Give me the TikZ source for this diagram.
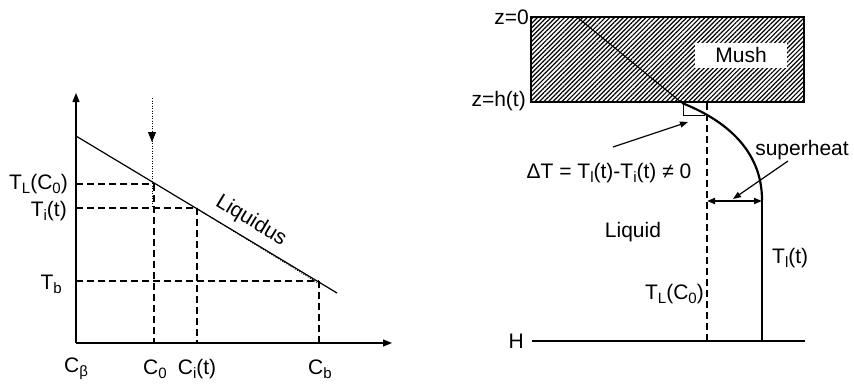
\documentclass[tikz,border=0pt]{standalone}
\usepackage{fontspec}
\setmainfont{Liberation Sans}
\usetikzlibrary{arrows.meta,patterns.meta}
\newcommand\lowsub[1]{\raisebox{-4pt}{\fontsize{15}{15}\selectfont #1}}
\tikzset{
  lbl/.style={inner sep=0pt,font=\fontsize{21}{24}\selectfont},
  axis/.style={line width=1.2pt,-{Triangle[length=9pt,width=7pt]}},
  thinln/.style={line width=1.2pt},
  dashln/.style={line width=1.2pt,dash pattern=on 7pt off 4pt},
  dotln/.style={line width=0.9pt,dash pattern=on 1pt off 1.5pt},
  thick2/.style={line width=2.2pt},
  ptr/.style={line width=1.2pt,-{Triangle[length=8pt,width=6pt]}}
}
\begin{document}
\begin{tikzpicture}[x=1pt,y=-1pt]
\useasboundingbox (0,0) rectangle (854,383);
% ---------- left diagram ----------
\coordinate (O) at (76,343);
\coordinate (ytop) at (76,93);
\coordinate (xend) at (392,343);
\coordinate (L1) at (76,136);
\coordinate (L2) at (337,293);
\coordinate (TLp) at (154,184);
\coordinate (Tip) at (197,208);
\coordinate (Tbp) at (319,281);
\coordinate (yTL) at (76,184);
\coordinate (yTi) at (76,208);
\coordinate (yTb) at (76,281);
\coordinate (xC0) at (154,343);
\coordinate (xCi) at (197,343);
\coordinate (xCb) at (319,343);
\coordinate (A0) at (152,98);
\coordinate (A1) at (152,142);
\coordinate (A2) at (152,208);
\coordinate (I1) at (199,210);
\coordinate (I2) at (318,283);

\draw[axis] (O) -- (ytop);
\draw[axis] (O) -- (xend);
\draw[thinln] (L1) -- (L2);
\draw[dashln] (yTL) -- (TLp);
\draw[dashln] (yTi) -- (Tip);
\draw[dashln] (yTb) -- (Tbp);
\draw[dashln] (TLp) -- (xC0);
\draw[dashln] (Tip) -- (xCi);
\draw[dashln] (Tbp) -- (xCb);
\draw[dotln] (A0) -- (A2);
\draw[dotln,-{Triangle[length=10pt,width=8pt]}] (A0) -- (A1);
\draw[dotln] (I1) -- (I2);

\node[lbl,anchor=east] (tlc0) at (68,184) {T\lowsub{L}(C\lowsub{0})};
\node[lbl,anchor=east] (tit) at (67,211) {T\lowsub{i}(t)};
\node[lbl,anchor=east] (tb) at (62,284) {T\lowsub{b}};
\node[lbl] (cbeta) at (76,369) {C\lowsub{β}};
\node[lbl] (c0) at (155,369) {C\lowsub{0}};
\node[lbl] (cit) at (197,369) {C\lowsub{i}(t)};
\node[lbl] (cb) at (320,369) {C\lowsub{b}};
\node[lbl,rotate=-31] (liq) at (251,221) {Liquidus};

% ---------- right diagram ----------
\coordinate (B1) at (531,17);
\coordinate (B2) at (804,102);
\fill[pattern={Lines[angle=45,distance=3.2pt,line width=1.2pt]}] (B1) rectangle (B2);
\draw[thinln] (B1) rectangle (B2);
\node[lbl,fill=white,minimum width=92pt,minimum height=25pt] (mush) at (741,55) {Mush};
\coordinate (M0) at (577,17);
\coordinate (M1) at (682,103);
\draw[line width=1.1pt] (M0) -- (M1);
\coordinate (R1) at (683,115);
\coordinate (R2) at (705,115);
\draw[line width=1pt] (683,103) -- (R1) -- (R2);
\coordinate (S1) at (762,200);
\coordinate (S2) at (762,341);
\draw[thick2] (M1) .. controls (725,120) and (762,150) .. (S1);
\draw[thinln] (S1) -- (S2);
\coordinate (D1) at (707,103);
\coordinate (D2) at (707,341);
\draw[dashln] (D1) -- (D2);
\coordinate (H1) at (532,341);
\coordinate (H2) at (805,341);
\draw[thinln] (H1) -- (H2);
\coordinate (SA) at (707,201);
\coordinate (SB) at (762,201);
\draw[line width=1.8pt,{Triangle[length=8pt,width=6pt]}-{Triangle[length=8pt,width=6pt]}] (SA) -- (SB);

\node[lbl] (sh) at (802,150) {superheat};
\coordinate (SP) at (733,199);
\draw[ptr] (788,161) -- (SP);
\node[lbl] (dT) at (609,173) {ΔT = T\lowsub{l}(t)-T\lowsub{i}(t) ≠ 0};
\coordinate (DP) at (688,122);
\draw[ptr] (613,147) -- (DP);
\node[lbl,anchor=east] (z0) at (529,17) {z=0};
\node[lbl,anchor=east] (zh) at (526,101) {z=h(t)};
\node[lbl] (liquid) at (633,232) {Liquid};
\node[lbl,anchor=west] (tlt) at (772,258) {T\lowsub{l}(t)};
\node[lbl,anchor=east] (tlc0r) at (704,294) {T\lowsub{L}(C\lowsub{0})};
\node[lbl,anchor=east] (hl) at (524,341) {H};
\end{tikzpicture}
\end{document}
